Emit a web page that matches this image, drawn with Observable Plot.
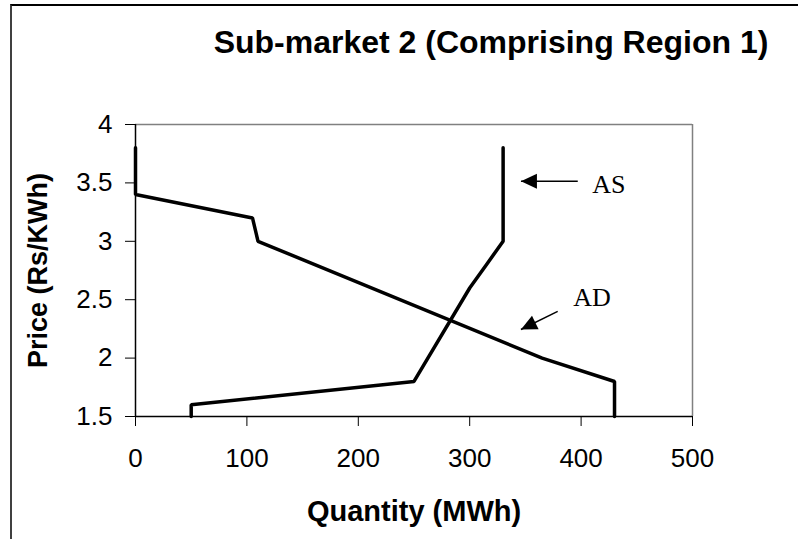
<!DOCTYPE html>
<html>
<head>
<meta charset="utf-8">
<script src="https://cdn.jsdelivr.net/npm/d3@7"></script>
<script src="https://cdn.jsdelivr.net/npm/@observablehq/plot@0.6"></script>
<style>
  html, body { margin: 0; padding: 0; background: #fff; }
  #wrap { position: relative; width: 798px; height: 539px; overflow: hidden; background: #fff; }
  #frame { position: absolute; left: 10px; top: 4px; width: 900px; height: 600px;
           border-left: 2px solid #404040; border-top: 2px solid #000; box-sizing: border-box; }
  #title { position: relative; height: 80px; }
  #title span { position: absolute; left: 191px; width: 600px; top: 27px; text-align: center;
                font: bold 32px "Liberation Sans", Arial, sans-serif; line-height: 30px; color: #000; white-space: nowrap; }
  #chart { position: relative; }
  #chart svg { display: block; }
</style>
</head>
<body>
<div id="wrap">
  <div id="frame"></div>
  <div id="title"><span>Sub-market 2 (Comprising Region 1)</span></div>
  <div id="chart"></div>
</div>
<script>
// Aggregate demand (AD) curve: quantity (MWh) and price (Rs/KWh)
const adQuantity = [0, 0, 105, 110, 365, 430, 430];
const adPrice    = [3.8, 3.4, 3.2, 3.0, 2.0, 1.8, 1.5];

// Aggregate supply (AS) curve
const asQuantity = [50, 50, 250, 300, 315, 330, 330, 330];
const asPrice    = [1.5, 1.6, 1.8, 2.6, 2.8, 3.0, 3.6, 3.8];

// Axis ticks
const xTicks = [0, 100, 200, 300, 400, 500];
const yTicks = [1.5, 2, 2.5, 3, 3.5, 4];

// Annotation labels and their arrows (tail -> tip, in data units)
const labelNames = ["AS", "AD"];
const labelX     = [410, 393];
const labelY     = [3.41, 2.45];
const arrowTailX = [397, 379];
const arrowTailY = [3.515, 2.40];
const arrowTipX  = [346, 346];
const arrowTipY  = [3.515, 2.245];

const ad = adQuantity.map((q, i) => ({q, p: adPrice[i]}));
const as = asQuantity.map((q, i) => ({q, p: asPrice[i]}));
const labels = labelNames.map((t, i) => ({t, x: labelX[i], y: labelY[i]}));
const arrows = labelNames.map((t, i) => ({x1: arrowTailX[i], y1: arrowTailY[i], x2: arrowTipX[i], y2: arrowTipY[i]}));

const W = 798, H = 459;
const mL = 135, mR = 106, mT = 44, mB = 123;
const xS = d3.scaleLinear([0, 500], [mL, W - mR]);
const yS = d3.scaleLinear([1.5, 4], [H - mB, mT]);
arrows.forEach(a => {
  const dx = xS(a.x2) - xS(a.x1), dy = yS(a.y2) - yS(a.y1);
  a.rot = Math.atan2(dx, -dy) * 180 / Math.PI;
});

const sans = '"Liberation Sans", Arial, sans-serif';

const chart = Plot.plot({
  width: W, height: H,
  marginLeft: mL, marginRight: mR, marginTop: mT, marginBottom: mB,
  style: {fontFamily: sans, fontSize: "26px", color: "#000", background: "transparent", overflow: "visible"},
  x: {domain: [0, 500]},
  y: {domain: [1.5, 4]},
  marks: [
    Plot.ruleY([4], {stroke: "#808080", strokeWidth: 1.5}),
    Plot.ruleX([500], {stroke: "#808080", strokeWidth: 1.5}),
    Plot.axisX({ticks: xTicks, tickSize: 10, tickPadding: 22, label: null, stroke: "#000", fontSize: 26, tickFormat: d => String(d)}),
    Plot.axisY({ticks: yTicks, tickSize: 10, tickPadding: 13, label: null, stroke: "#000", fontSize: 26, tickFormat: d => String(d)}),
    Plot.ruleX([0], {stroke: "#000", strokeWidth: 1.5}),
    Plot.ruleY([1.5], {stroke: "#000", strokeWidth: 1.5}),
    Plot.line(ad, {x: "q", y: "p", stroke: "#000", strokeWidth: 3.5, strokeLinejoin: "miter"}),
    Plot.line(as, {x: "q", y: "p", stroke: "#000", strokeWidth: 3.5, strokeLinejoin: "miter"}),
    Plot.link(arrows, {x1: "x1", y1: "y1", x2: "x2", y2: "y2", stroke: "#000", strokeWidth: 1.5}),
    Plot.vector(arrows, {x: "x2", y: "y2", rotate: "rot", length: 16, r: 7.5, anchor: "end", shape: "spike", fill: "#000", stroke: "none"}),
    Plot.text(labels, {x: "x", y: "y", text: "t", textAnchor: "start", lineAnchor: "bottom",
      fontFamily: '"Liberation Serif", "Times New Roman", serif', fontSize: 26}),
    Plot.text(["Quantity (MWh)"], {frameAnchor: "bottom", dy: 104, lineAnchor: "bottom", textAnchor: "middle", fontWeight: "bold", fontSize: 29}),
    Plot.text(["Price (Rs/KWh)"], {frameAnchor: "left", dx: -97, rotate: -90, lineAnchor: "middle", textAnchor: "middle", fontWeight: "bold", fontSize: 27})
  ]
});
document.getElementById("chart").appendChild(chart);
</script>
</body>
</html>
